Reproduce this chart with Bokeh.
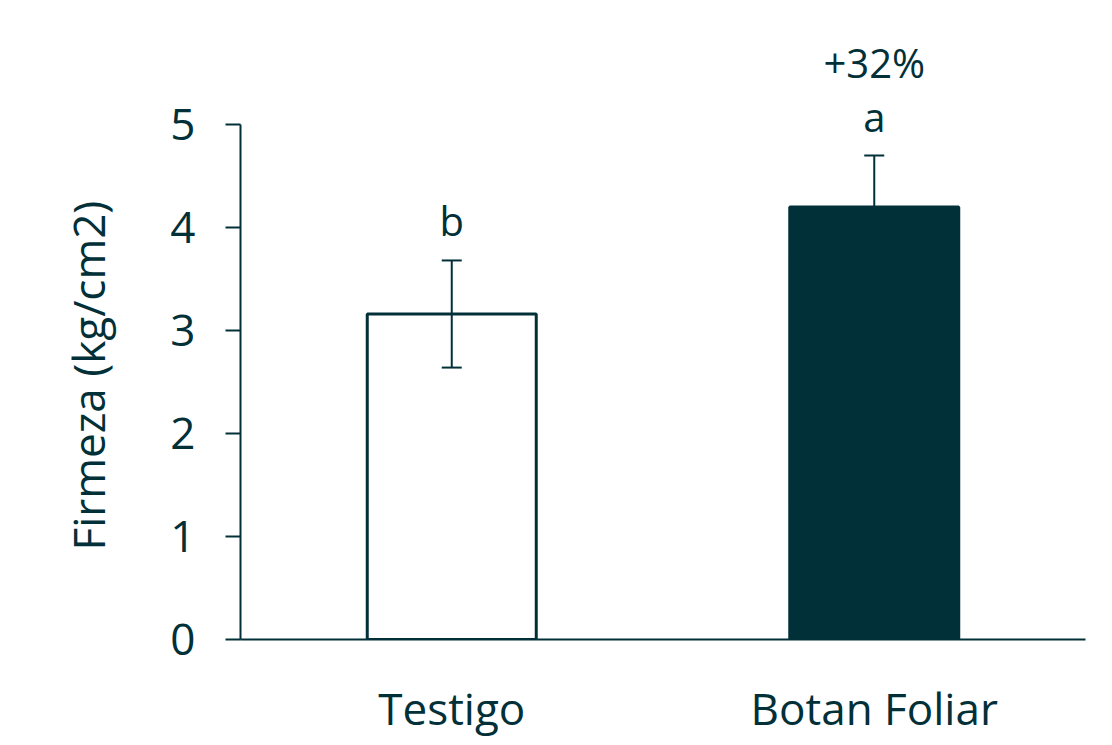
from bokeh.plotting import figure
from bokeh.models import (ColumnDataSource, Whisker, Label, FactorRange, Range1d,
                          FixedTicker, TeeHead, Title)
from bokeh.embed import file_html
from bokeh.resources import INLINE

categories = ["Testigo", "Botan Foliar"]
values = [3.16, 4.20]
errors = [0.52, 0.50]
fills = ["white", "#023038"]
letters = ["b", "a"]
letter_y = [4.07, 5.08]
increase_text = "+32%"
increase_y = 5.60
y_ticks = [0, 1, 2, 3, 4, 5]
y_max = 5.0

DARK = "#023038"
FONT = "Open Sans"

upper = [v + e for v, e in zip(values, errors)]
lower = [v - e for v, e in zip(values, errors)]
src = ColumnDataSource(dict(cat=categories, val=values, up=upper, lo=lower, fill=fills))

W, H = 1100, 740
FL, FR, FT, FB = 240, 1085, 30, 639
p = figure(x_range=FactorRange(*categories, range_padding=0),
           y_range=Range1d(0, y_max + (124 - FT) / 103.0),
           width=W, height=H, output_backend="svg", toolbar_location=None,
           min_border_left=FL, min_border_right=W - FR, min_border_top=FT,
           min_border_bottom=H - FB)
p.outline_line_color = None
p.xgrid.grid_line_color = None
p.ygrid.grid_line_color = None
p.background_fill_color = "white"

p.vbar(x="cat", top="val", width=0.4, source=src, fill_color="fill",
       line_color=DARK, line_width=3)

w = Whisker(base="cat", upper="up", lower="lo", source=src, line_color=DARK, line_width=2,
            upper_head=TeeHead(size=20, line_color=DARK, line_width=2),
            lower_head=TeeHead(size=20, line_color=DARK, line_width=2),
            level="annotation")
p.add_layout(w)

for i, (t, yy) in enumerate(zip(letters, letter_y)):
    p.add_layout(Label(x=i + 0.5, y=yy, text=t, text_align="center",
                       text_baseline="alphabetic", text_font=FONT, text_font_size="40px",
                       text_color=DARK))
p.add_layout(Label(x=1.5, y=increase_y, text=increase_text, text_align="center",
                   text_baseline="alphabetic", text_font=FONT, text_font_size="40px",
                   text_color=DARK))

p.yaxis.ticker = FixedTicker(ticks=y_ticks)
p.yaxis.bounds = (0, y_max)
p.yaxis.major_label_text_font = FONT
p.yaxis.major_label_text_font_size = "44px"
p.yaxis.major_label_text_color = DARK
p.yaxis.major_label_standoff = 30
p.yaxis.major_tick_out = 15
p.yaxis.major_tick_in = 0
p.yaxis.minor_tick_line_color = None
p.yaxis.axis_line_color = DARK
p.yaxis.axis_line_width = 2
p.yaxis.major_tick_line_color = DARK
p.yaxis.major_tick_line_width = 2

ylab = Title(text="Firmeza (kg/cm2)", align="left", offset=89, standoff=100,
             text_font=FONT, text_font_size="44px", text_font_style="normal",
             text_color=DARK)
p.add_layout(ylab, "left")

p.xaxis.major_tick_line_color = None
p.xaxis.minor_tick_line_color = None
p.xaxis.major_tick_out = 0
p.xaxis.major_tick_in = 0
p.xaxis.axis_line_color = DARK
p.xaxis.axis_line_width = 2
p.xaxis.major_label_text_font = FONT
p.xaxis.major_label_text_font_size = "44px"
p.xaxis.major_label_text_color = DARK
p.xaxis.major_label_standoff = 38

open("out.html", "w").write(file_html(p, INLINE))
